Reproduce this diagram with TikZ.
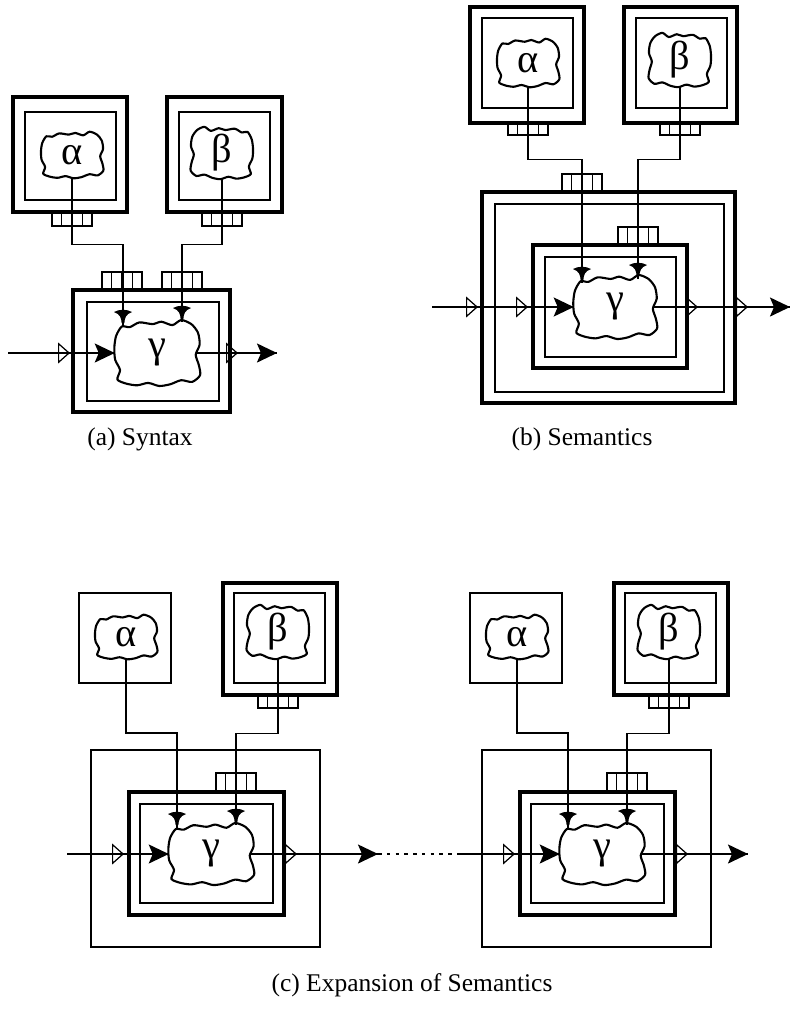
\documentclass[tikz,border=0pt]{standalone}
\usepackage{fontspec}
\setmainfont{Liberation Serif}
\usetikzlibrary{positioning, arrows.meta, fit, calc}
\newcommand{\gblob}[6]{%
  \node[greek] (#1) at (#2,#3) {#6};
  \begin{scope}[shift={(#2,#3)}, xscale=#4, yscale=#5]
    \draw[blobline] plot[smooth cycle, tension=0.45] coordinates {(-0.97,-0.15) (-0.93,-0.5) (-0.8,-0.78) (-0.62,-0.76) (-0.4,-0.9) (-0.1,-0.85) (0.1,-0.92) (0.35,-0.82) (0.55,-0.97) (0.78,-0.85) (0.93,-0.6) (0.97,-0.25) (0.88,0.05) (0.95,0.35) (0.98,0.65) (0.8,0.85) (0.55,0.8) (0.3,0.92) (0.05,0.97) (-0.2,0.88) (-0.45,0.95) (-0.7,0.9) (-0.9,0.78) (-0.84,0.5) (-0.95,0.2)};
    \coordinate (#1w) at (-0.96,0);
    \coordinate (#1e) at (0.89,0);
    \coordinate (#1s) at (0,0.96);
  \end{scope}%
}
\newcommand{\portbox}[5]{%
  \node[portbox, fit={(#2,#3)(#4,#5)}] (#1) {};
  \foreach \f in {0.25,0.5,0.75}{\draw[wire] ($(#1.north west)!\f!(#1.north east)$) -- ($(#1.south west)!\f!(#1.south east)$);}%
}
\newcommand{\trumpet}[3]{%
  \coordinate (#1) at (#2,#3);
  \fill (#2-9,#3) .. controls (#2-4,#3-3) and (#2+4,#3-3) .. (#2+9,#3)
    .. controls (#2+3,#3+2) and (#2+1.6,#3+6) .. (#2+1.4,#3+11)
    -- (#2-1.4,#3+11) .. controls (#2-1.6,#3+6) and (#2-3,#3+2) .. (#2-9,#3) -- cycle;
  \draw[line width=1.2pt] (#2,#3+10) -- (#2,#3+14);%
}

\begin{document}
\begin{tikzpicture}[x=0.02cm, y=-0.02cm,
  outerbox/.style={draw, line width=2.2pt, inner sep=0pt},
  innerbox/.style={draw, line width=0.9pt, inner sep=0pt},
  thinbox/.style={draw, line width=0.8pt, inner sep=0pt},
  portbox/.style={draw, line width=0.7pt, inner sep=0pt},
  wire/.style={line width=0.6pt},
  flow/.style={line width=1.1pt},
  openhead/.style={flow, -{Triangle[open, length=2.4mm, width=4.2mm, line width=0.7pt]}},
  fullhead/.style={flow, -{Stealth[length=4mm, width=3.8mm, inset=0.8mm]}},
  blobline/.style={line width=1.2pt, line join=round},
  greek/.style={font=\fontsize{23}{24}\selectfont, inner sep=0pt},
  caption/.style={font=\fontsize{14.5}{17}\selectfont}
]
\useasboundingbox (0,0) rectangle (795,1009);

% ===== (a) Syntax =====
\node[outerbox, fit={(13,97)(127,212)}] (aA) {};
\node[innerbox, fit={(25,112)(116,200)}] (aAi) {};
\node[outerbox, fit={(167,97)(282,212)}] (aB) {};
\node[innerbox, fit={(179,112)(270,200)}] (aBi) {};
\node[outerbox, fit={(73,290)(230,412)}] (aG) {};
\node[innerbox, fit={(87,302)(219,401)}] (aGi) {};
\gblob{aa}{72}{155}{32}{24}{α}
\gblob{ab}{222}{153}{-32}{27}{β}
\gblob{ag}{157}{353}{44}{34}{γ}
\portbox{aPa}{52}{212}{92}{226}
\portbox{aPb}{202}{212}{242}{226}
\portbox{aP1}{102}{272}{142}{290}
\portbox{aP2}{162}{272}{202}{290}
\trumpet{aT1}{123}{312}
\trumpet{aT2}{182}{308}
\draw[wire] (aas) -- (aPa.north);
\draw[wire] (abs) -- (aPb.north);
\draw[wire] (aPa.south) -- ++(0,18) -| (aT1);
\draw[wire] (aPb.south) -- ++(0,18) -| (aT2);
\coordinate (ain) at (8,353);
\coordinate (ah1) at (70,353);
\coordinate (ah2) at (238,353);
\coordinate (aout) at (277,353);
\draw[flow] (ain) -- (agw) (age) -- (aout);
\draw[openhead] (ain) -- (ah1);
\draw[fullhead] (ah1) -- (agw);
\draw[openhead] (age) -- (ah2);
\draw[fullhead] (ah2) -- (aout);
\node[caption] (acap) at (140,439) {(a) Syntax};

% ===== (b) Semantics =====
\node[outerbox, fit={(470,7)(584,123)}] (bA) {};
\node[innerbox, fit={(482,18)(573,108)}] (bAi) {};
\node[outerbox, fit={(624,7)(737,123)}] (bB) {};
\node[innerbox, fit={(636,18)(727,108)}] (bBi) {};
\node[outerbox, fit={(482,192)(735,403)}] (bS) {};
\node[innerbox, fit={(495,204)(724,392)}] (bSi) {};
\node[outerbox, fit={(533,245)(687,368)}] (bG) {};
\node[innerbox, fit={(545,257)(676,357)}] (bGi) {};
\gblob{ba}{528}{63}{32}{25}{α}
\gblob{bb}{680}{60}{-32}{28}{β}
\gblob{bg}{615}{307}{43}{33}{γ}
\portbox{bPa}{508}{123}{548}{135}
\portbox{bPb}{660}{123}{700}{135}
\portbox{bP1}{562}{174}{602}{192}
\portbox{bP2}{618}{227}{658}{245}
\trumpet{bT1}{582}{269}
\trumpet{bT2}{638}{265}
\draw[wire] (bas) -- (bPa.north);
\draw[wire] (bbs) -- (bPb.north);
\draw[wire] (bPa.south) -- ++(0,24) -| (bT1);
\draw[wire] (bPb.south) -- ++(0,24) -| (bT2);
\coordinate (bin) at (432,307);
\coordinate (bh1) at (478,307);
\coordinate (bh2) at (528,307);
\coordinate (bh3) at (698,307);
\coordinate (bh4) at (748,307);
\coordinate (bout) at (790,307);
\draw[flow] (bin) -- (bgw) (bge) -- (bout);
\draw[openhead] (bin) -- (bh1);
\draw[openhead] (bh1) -- (bh2);
\draw[fullhead] (bh2) -- (bgw);
\draw[openhead] (bge) -- (bh3);
\draw[openhead] (bh3) -- (bh4);
\draw[fullhead] (bh4) -- (bout);
\node[caption] (bcap) at (582,439) {(b) Semantics};

% ===== (c) Expansion of Semantics =====
\foreach \p/\s/\e in {l/0/378, r/391/357}{
\begin{scope}[shift={(\s,0)}]
\node[thinbox, fit={(79,593)(171,683)}] (\p A) {};
\node[outerbox, fit={(223,583)(337,695)}] (\p B) {};
\node[innerbox, fit={(234,593)(325,683)}] (\p Bi) {};
\node[thinbox, fit={(91,750)(320,947)}] (\p S) {};
\node[outerbox, fit={(129,792)(284,915)}] (\p G) {};
\node[innerbox, fit={(140,804)(273,903)}] (\p Gi) {};
\gblob{\p a}{126}{637}{32}{23}{α}
\gblob{\p b}{278}{632}{-32}{28}{β}
\gblob{\p g}{211}{854}{44}{32}{γ}
\portbox{\p Pb}{258}{695}{298}{708}
\portbox{\p P2}{216}{773}{256}{792}
\trumpet{\p T1}{177}{814}
\trumpet{\p T2}{236}{811}
\coordinate (\p J) at (126,733);
\draw[wire] (\p as) -- (\p J) -| (\p T1);
\draw[wire] (\p bs) -- (\p Pb.north);
\draw[wire] (\p Pb.south) -- ++(0,25) -| (\p T2);
\coordinate (\p in) at (67,854);
\coordinate (\p h1) at (124,854);
\coordinate (\p h2) at (297,854);
\coordinate (\p out) at (\e,854);
\draw[flow] (\p in) -- (\p gw) (\p ge) -- (\p out);
\draw[openhead] (\p in) -- (\p h1);
\draw[fullhead] (\p h1) -- (\p gw);
\draw[openhead] (\p ge) -- (\p h2);
\draw[fullhead] (\p h2) -- (\p out);
\end{scope}
}
\draw[flow, dash pattern=on 2pt off 3pt] (lout) -- (rin);
\node[caption] (ccap) at (412,985) {(c) Expansion of Semantics};

\end{tikzpicture}
\end{document}
